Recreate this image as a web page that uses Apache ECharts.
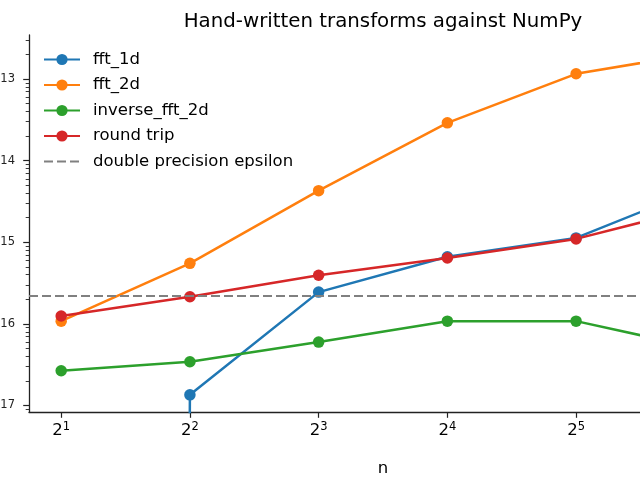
<!DOCTYPE html>
<html>
<head>
<meta charset="utf-8">
<script src="https://cdn.jsdelivr.net/npm/echarts@6/dist/echarts.min.js"></script>
<style>
  html, body { margin: 0; padding: 0; background: #fff; }
  #chart { width: 640px; height: 480px; }
</style>
</head>
<body>
<div id="chart"></div>
<script>
// transform sizes (x axis, log base 2)
const sizes = [2, 4, 8, 16, 32, 64];
const xTickExponents = [1, 2, 3, 4, 5, 6];

// max abs error vs numpy (0 = exact match)
const fft1d = [0, 1.35e-17, 2.45e-16, 6.65e-16, 1.13e-15, 4.86e-15];
const fft2d = [1.08e-16, 5.52e-16, 4.29e-15, 2.91e-14, 1.16e-13, 2.13e-13];
const inverseFft2d = [2.66e-17, 3.43e-17, 5.98e-17, 1.08e-16, 1.08e-16, 4.88e-17];
const roundTrip = [1.25e-16, 2.15e-16, 3.94e-16, 6.41e-16, 1.10e-15, 2.77e-15];
const epsilon = 2.220446049250313e-16;

// y ticks (the picture only shows the exponent part of 10^-k)
const yTickValues = [1e-17, 1e-16, 1e-15, 1e-14, 1e-13];
const yTickLabels = ['17', '16', '15', '14', '13'];

const colors = ['#1f77b4', '#ff7f0e', '#2ca02c', '#d62728'];

// zero can't go on a log axis: clip it to a tiny value like matplotlib does
const clipZero = v => (v > 0 ? v : 1e-300);
const pairs = ys => sizes.map((n, i) => [n, clipZero(ys[i])]);

// minor log ticks 2..9 x 10^k
const yMinorTicks = [];
for (let e = -18; e <= -12; e++) {
  for (let k = 2; k <= 9; k++) yMinorTicks.push(k * Math.pow(10, e));
}

const axisColor = '#222';
const font = 'DejaVu Sans';

function lineSeries(name, ys, color) {
  return {
    name, type: 'line', data: pairs(ys),
    symbol: 'circle', symbolSize: 11.5,
    itemStyle: { color },
    lineStyle: { color, width: 2.5 },
    emphasis: { disabled: true },
    clip: true
  };
}

const chart = echarts.init(document.getElementById('chart'), null, { renderer: 'canvas' });
chart.setOption({
  animation: false,
  backgroundColor: '#fff',
  title: {
    text: 'Hand-written transforms against NumPy',
    left: 383, top: 12, padding: 0, textAlign: 'center',
    textStyle: { fontFamily: font, fontSize: 19.8, fontWeight: 'normal', color: '#000' }
  },
  legend: {
    orient: 'vertical', left: 43, top: 51, padding: 0,
    itemWidth: 36, itemHeight: 14, itemGap: 8.5,
    data: [
      'fft_1d', 'fft_2d', 'inverse_fft_2d', 'round trip',
      { name: 'double precision epsilon', itemStyle: { opacity: 0 } }
    ],
    textStyle: { fontFamily: font, fontSize: 16.5, color: '#000', padding: [0, 0, 0, 8] }
  },
  grid: { left: 29, top: 35, width: 708, bottom: 68, containLabel: false, outerBoundsMode: 'none' },
  xAxis: {
    type: 'log', logBase: 2,
    min: Math.pow(2, 0.75), max: Math.pow(2, 6.25),
    name: 'n', nameLocation: 'middle', nameGap: 48,
    nameTextStyle: { fontFamily: font, fontSize: 16.5, color: '#000' },
    axisLine: { lineStyle: { color: axisColor, width: 1.3 } },
    axisTick: { length: 5.8, lineStyle: { color: axisColor, width: 1.2 }, customValues: sizes },
    axisLabel: {
      customValues: sizes, margin: 9,
      formatter: v => '{b|2}{s|' + xTickExponents[sizes.indexOf(v)] + '}',
      rich: {
        b: { fontFamily: font, fontSize: 16.5, color: '#000' },
        s: { fontFamily: font, fontSize: 11.5, color: '#000', padding: [0, 0, 8, 0] }
      }
    },
    splitLine: { show: false }
  },
  yAxis: [{
    type: 'log', logBase: 10,
    min: Math.pow(10, -17.08), max: Math.pow(10, -12.46),
    axisLine: { show: true, lineStyle: { color: axisColor, width: 1.3 } },
    axisTick: { show: true, length: 5.8, lineStyle: { color: axisColor, width: 1.2 }, customValues: yTickValues },
    axisLabel: {
      customValues: yTickValues, margin: 14,
      fontFamily: font, fontSize: 11.5, color: '#222', padding: [0, 0, 12, 0],
      formatter: v => yTickLabels[yTickValues.findIndex(t => Math.abs(Math.log10(t) - Math.log10(v)) < 1e-6)]
    },
    splitLine: { show: false }
  }, {
    type: 'log', logBase: 10, position: 'left',
    min: Math.pow(10, -17.08), max: Math.pow(10, -12.46),
    axisLine: { show: false },
    axisTick: { show: true, length: 3.3, lineStyle: { color: axisColor, width: 0.9 }, customValues: yMinorTicks },
    axisLabel: { show: false },
    splitLine: { show: false }
  }],
  series: [
    {
      name: 'double precision epsilon', type: 'line', data: [],
      symbol: 'none',
      itemStyle: { color: '#808080' },
      lineStyle: { color: '#808080', width: 2, type: [9, 4] },
      markLine: {
        silent: true, symbol: 'none', precision: 20, label: { show: false },
        lineStyle: { color: '#808080', width: 2, type: [9, 4] },
        data: [{ yAxis: epsilon }]
      }
    },
    lineSeries('fft_1d', fft1d, colors[0]),
    lineSeries('fft_2d', fft2d, colors[1]),
    lineSeries('inverse_fft_2d', inverseFft2d, colors[2]),
    lineSeries('round trip', roundTrip, colors[3])
  ]
});
</script>
</body>
</html>
